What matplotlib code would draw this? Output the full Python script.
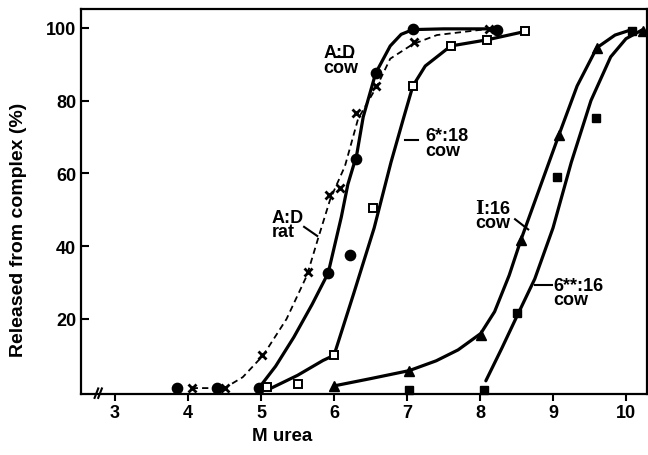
import matplotlib
matplotlib.use("Agg")
import matplotlib.pyplot as plt
from matplotlib.lines import Line2D

plt.rcParams['font.family'] = ['Liberation Sans', 'DejaVu Sans']
plt.rcParams['font.weight'] = 'bold'
plt.rcParams['lines.scale_dashes'] = False
plt.rcParams['mathtext.fontset'] = 'dejavuserif'

# ---- data ----
# A:D cow (filled circles)
adcow_x = [3.85, 4.40, 4.97, 5.92, 6.22, 6.30, 6.57, 7.08, 8.23]
adcow_y = [1.0, 1.0, 1.0, 32.6, 37.6, 64.0, 87.5, 99.7, 99.5]
adcow_cx = [4.97, 5.2, 5.45, 5.7, 5.92, 6.1, 6.19, 6.31, 6.40, 6.57, 6.77, 6.92, 7.08, 7.5, 8.23]
adcow_cy = [1.0, 7.0, 15.0, 24.0, 32.6, 48.0, 57.0, 65.0, 75.5, 87.5, 95.0, 98.2, 99.5, 99.7, 99.7]

# A:D rat (x marks, dashed)
adrat_x = [4.05, 4.50, 5.02, 5.65, 5.93, 6.08, 6.30, 6.58, 7.10, 8.12]
adrat_y = [1.0, 1.0, 10.0, 33.0, 54.0, 56.0, 76.5, 84.0, 96.0, 99.7]
adrat_cx = [4.05, 4.50, 4.75, 5.03, 5.35, 5.63, 5.78, 5.95, 6.15, 6.33, 6.59, 6.77, 7.08, 7.41, 8.12]
adrat_cy = [1.0, 1.0, 4.0, 10.0, 20.0, 32.0, 42.0, 53.0, 62.0, 75.0, 84.0, 91.5, 95.5, 98.0, 99.7]

# 6*:18 cow (open squares)
s18_x = [5.08, 5.50, 6.00, 6.53, 7.08, 7.60, 8.10, 8.62]
s18_y = [1.4, 2.0, 10.0, 50.5, 84.0, 95.0, 96.7, 99.0]
s18_cx = [5.12, 5.5, 5.85, 6.0, 6.27, 6.55, 6.78, 6.95, 7.08, 7.25, 7.6, 8.1, 8.62]
s18_cy = [0.8, 4.5, 8.6, 10.0, 27.0, 45.0, 63.0, 75.0, 84.0, 89.5, 95.0, 96.7, 99.0]

# I:16 cow (triangles)
i16_x = [6.00, 7.03, 8.01, 8.56, 9.08, 9.60, 10.23]
i16_y = [1.6, 5.8, 15.7, 41.7, 70.5, 94.5, 99.0]
i16_cx = [6.0, 6.5, 7.03, 7.4, 7.7, 8.01, 8.2, 8.4, 8.56, 8.8, 9.08, 9.33, 9.6, 9.85, 10.08]
i16_cy = [1.6, 3.6, 5.8, 8.5, 11.5, 16.0, 22.0, 32.0, 41.7, 55.0, 70.5, 84.0, 94.5, 98.0, 99.5]

# 6**:16 cow (filled squares)
s16_x = [7.03, 8.05, 8.50, 9.05, 9.59, 10.08]
s16_y = [0.6, 0.6, 21.5, 59.0, 75.3, 99.0]
s16_cx = [8.08, 8.3, 8.5, 8.75, 9.0, 9.25, 9.52, 9.79, 10.0, 10.23]
s16_cy = [3.0, 12.0, 20.5, 31.0, 45.0, 63.0, 80.0, 92.0, 97.0, 99.5]

xticks = [3, 4, 5, 6, 7, 8, 9, 10]
yticks = [20, 40, 60, 80, 100]

# ---- figure ----
fig = plt.figure(figsize=(6.48, 4.56), dpi=100)
ax = fig.add_axes([0.125, 0.1338, 0.8735, 0.8442])
ax.set_xlim(2.534, 10.288)
ax.set_ylim(-0.62, 105.15)

lw = 2.3
ax.plot(adcow_cx, adcow_cy, color='black', lw=lw, solid_capstyle='round', zorder=3)
ax.plot(adrat_cx, adrat_cy, color='black', lw=1.3, dashes=(4.5, 3.0), zorder=3)
ax.plot(s18_cx, s18_cy, color='black', lw=lw, solid_capstyle='round', zorder=3)
ax.plot(i16_cx, i16_cy, color='black', lw=lw, solid_capstyle='round', zorder=3)
ax.plot(s16_cx, s16_cy, color='black', lw=lw, solid_capstyle='round', zorder=3)

ax.plot(adcow_x, adcow_y, 'o', color='black', ms=7.4, zorder=5, clip_on=False)
ax.plot(adrat_x, adrat_y, 'x', color='black', ms=5.5, mew=2.0, zorder=5, clip_on=False)
ax.plot(s18_x, s18_y, 's', mfc='white', mec='black', ms=5.5, mew=1.4, zorder=5, clip_on=False)
ax.plot(i16_x, i16_y, '^', color='black', ms=7.5, zorder=5, clip_on=False)
ax.plot(s16_x, s16_y, 's', color='black', ms=6.2, zorder=5, clip_on=False)

# labels
fs = 13
ls = 0.8
ax.text(5.85, 95.5, 'A:D\ncow', fontsize=fs, fontweight='bold', va='top', ha='left',
        linespacing=ls)
ax.plot([6.01, 6.25], [92.0, 92.0], color='black', lw=1.5)

ax.text(7.25, 72.7, '6*:18\ncow', fontsize=fs, fontweight='bold', va='top', ha='left',
        linespacing=ls)
ax.plot([6.97, 7.15], [69.3, 69.3], color='black', lw=1.5)

ax.text(5.15, 50.2, 'A:D\nrat', fontsize=fs, fontweight='bold', va='top', ha='left',
        linespacing=ls)
ax.plot([5.59, 5.77], [45.3, 42.8], color='black', lw=1.5)

ax.text(7.93, 53.0, r'$\mathbf{I}$:16' + '\ncow', fontsize=fs, fontweight='bold',
        va='top', ha='left', linespacing=ls)
ax.plot([8.48, 8.66], [47.4, 44.6], color='black', lw=1.5)

ax.text(9.0, 31.5, '6**:16\ncow', fontsize=fs, fontweight='bold', va='top', ha='left',
        linespacing=ls)
ax.plot([8.75, 8.99], [29.3, 29.3], color='black', lw=1.5)

# axis break marks
for bx in (2.745, 2.795):
    ax.add_line(Line2D([bx - 0.025, bx + 0.025], [-1.7, 0.9], color='black', lw=1.5,
                       clip_on=False, zorder=6))

# axes styling
for s in ax.spines.values():
    s.set_linewidth(1.6)
ax.set_xticks(xticks)
ax.set_yticks(yticks)
ax.tick_params(axis='x', direction='out', length=5, width=1.5, pad=2.5, labelsize=13)
ax.tick_params(axis='y', direction='in', length=5.5, width=1.5, pad=3.5, labelsize=13)
for lab in ax.get_xticklabels() + ax.get_yticklabels():
    lab.set_fontweight('bold')

fig.text(0.435, 0.024, 'M urea', fontsize=13.5, fontweight='bold', ha='center', va='bottom')
fig.text(0.029, 0.495, 'Released from complex (%)', fontsize=14, fontweight='bold',
         rotation=90, ha='center', va='center')

fig.savefig('out.png', dpi=100)
